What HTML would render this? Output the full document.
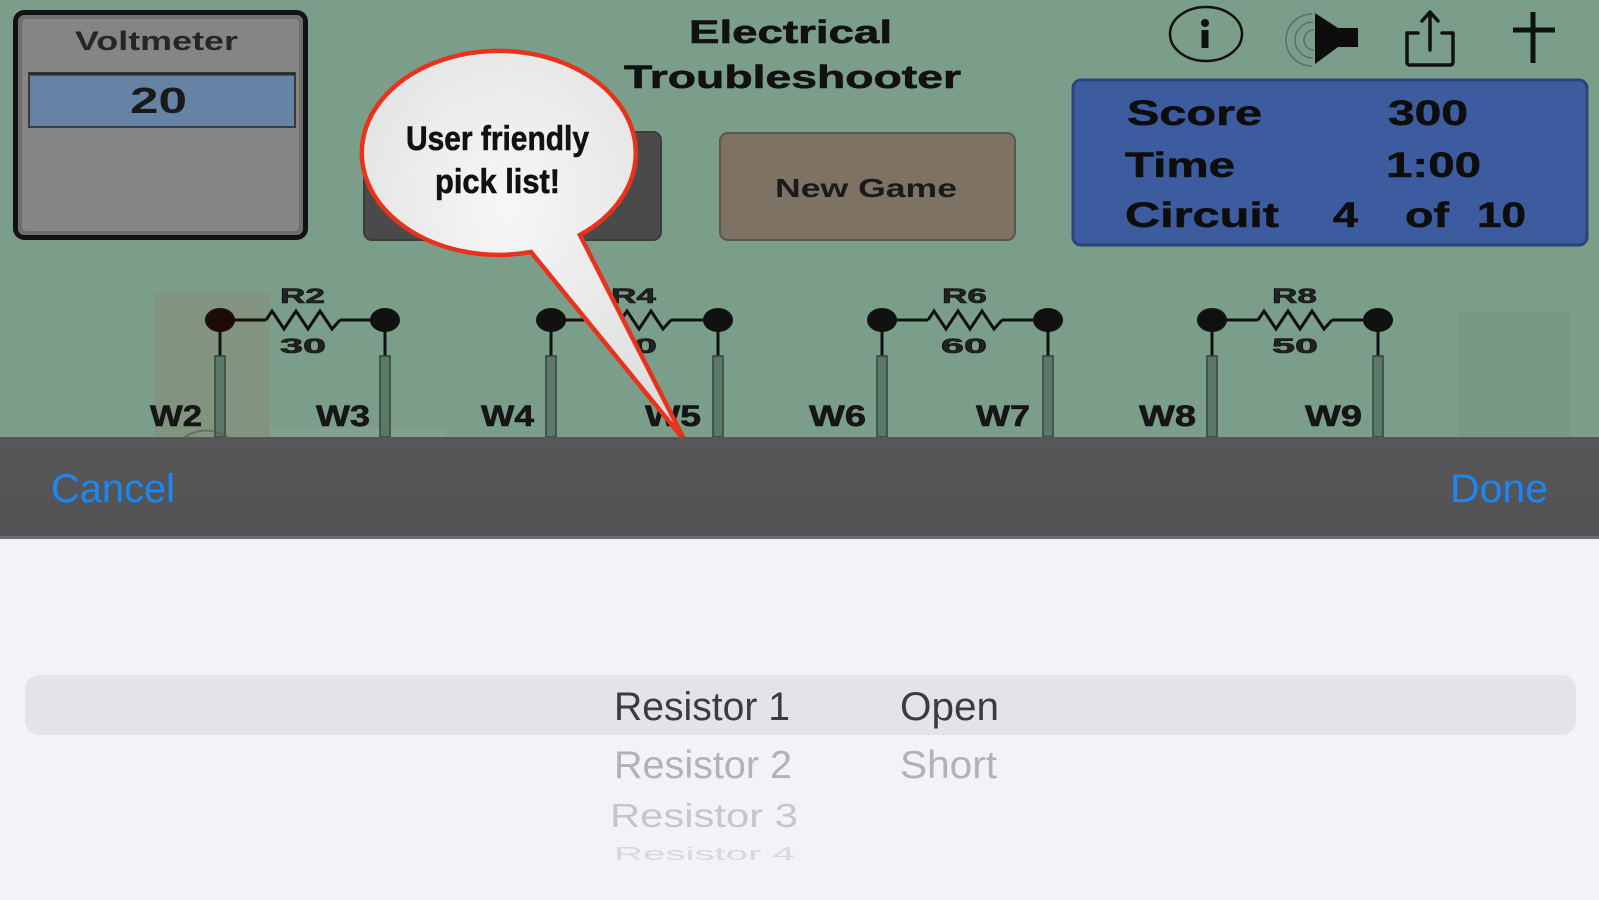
<!DOCTYPE html>
<html>
<head>
<meta charset="utf-8">
<style>
html,body{margin:0;padding:0;background:#f2f2f7;}
svg{display:block;}
text{font-family:"Liberation Sans",Arial,sans-serif;}
.b{font-weight:bold;}
.th{stroke:#111;stroke-width:0.6;}
</style>
</head>
<body>
<svg width="1599" height="900" viewBox="0 0 1599 900" xmlns="http://www.w3.org/2000/svg">
<defs>
  <radialGradient id="bub" cx="0.45" cy="0.4" r="0.7">
    <stop offset="0" stop-color="#f7f7f7"/>
    <stop offset="1" stop-color="#dcdcdc"/>
  </radialGradient>
  <linearGradient id="tb" x1="0" y1="0" x2="0" y2="1">
    <stop offset="0" stop-color="#57575a"/>
    <stop offset="1" stop-color="#535355"/>
  </linearGradient>
</defs>

<!-- top green area -->
<rect x="0" y="0" width="1599" height="437" fill="#7a9e8a"/>

<!-- subtle highlight regions -->
<rect x="155" y="293" width="115" height="144" fill="#82947f"/>
<rect x="270" y="428" width="176" height="9" fill="#86a08f"/>
<rect x="1458" y="311" width="112" height="126" fill="#789785"/>

<!-- Voltmeter box -->
<rect x="15.5" y="12.5" width="290" height="225" rx="9" fill="#858585" stroke="#121212" stroke-width="5"/>
<rect x="20" y="17" width="281" height="216" rx="6" fill="none" stroke="#6e6e6e" stroke-width="4"/>
<text x="75" y="50" class="b" font-size="27" fill="#262626" textLength="163" lengthAdjust="spacingAndGlyphs">Voltmeter</text>
<rect x="29" y="73" width="266" height="54" fill="#6682a5" stroke="#3a3a3a" stroke-width="2"/>
<line x1="29" y1="74" x2="295" y2="74" stroke="#2c2c2c" stroke-width="3"/>
<text x="130" y="113" class="b" font-size="36" fill="#1a1a1a" textLength="57" lengthAdjust="spacingAndGlyphs">20</text>

<!-- dark button behind bubble -->
<rect x="364" y="132" width="297" height="108" rx="8" fill="#4a4a4a" stroke="#3c3c3c" stroke-width="2"/>

<!-- Title -->
<text x="689" y="43" class="b th" font-size="32" fill="#111" textLength="203" lengthAdjust="spacingAndGlyphs">Electrical</text>
<text x="624" y="88" class="b th" font-size="32" fill="#111" textLength="337" lengthAdjust="spacingAndGlyphs">Troubleshooter</text>

<!-- New Game button -->
<rect x="720" y="133" width="295" height="107" rx="8" fill="#7d7264" stroke="#5e564c" stroke-width="2"/>
<text x="775" y="197" class="b" font-size="26" fill="#1a1a1a" textLength="182" lengthAdjust="spacingAndGlyphs">New Game</text>

<!-- Score box -->
<rect x="1073" y="80" width="514" height="165" rx="8" fill="#3d5ca0" stroke="#2b437a" stroke-width="3"/>
<g font-size="35" fill="#0d0d0d">
  <text x="1127" y="125" class="b th" textLength="135" lengthAdjust="spacingAndGlyphs">Score</text>
  <text x="1388" y="125" class="b th" textLength="80" lengthAdjust="spacingAndGlyphs">300</text>
  <text x="1125" y="177" class="b th" textLength="110" lengthAdjust="spacingAndGlyphs">Time</text>
  <text x="1386" y="177" class="b th" textLength="95" lengthAdjust="spacingAndGlyphs">1:00</text>
  <text x="1125" y="227" class="b th" textLength="154" lengthAdjust="spacingAndGlyphs">Circuit</text>
  <text x="1333" y="227" class="b th" textLength="25" lengthAdjust="spacingAndGlyphs">4</text>
  <text x="1405" y="227" class="b th" textLength="44" lengthAdjust="spacingAndGlyphs">of</text>
  <text x="1477" y="227" class="b th" textLength="49" lengthAdjust="spacingAndGlyphs">10</text>
</g>

<!-- Icons -->
<ellipse cx="1206" cy="34" rx="36" ry="27" fill="none" stroke="#111" stroke-width="2.5"/>
<ellipse cx="1205" cy="23" rx="4" ry="4" fill="#111"/>
<rect x="1201.5" y="30" width="7" height="18" fill="#111"/>

<g fill="none" stroke="#5a5a5a" stroke-width="1.6" opacity="0.7">
  <path d="M1312,14 A26,26 0 0 0 1312,66"/>
  <path d="M1313,22 A18,18 0 0 0 1313,58"/>
  <path d="M1314,30 A10,10 0 0 0 1314,50"/>
</g>
<polygon points="1315,13 1338,28 1358,28 1358,47 1338,47 1315,64" fill="#0d0d0d"/>

<g fill="none" stroke="#111" stroke-width="3.5" stroke-linecap="round" stroke-linejoin="round">
  <path d="M1418,33 L1407,33 L1407,62 Q1407,65 1410,65 L1450,65 Q1453,65 1453,62 L1453,33 L1442,33"/>
  <path d="M1430,50 L1430,13"/>
  <path d="M1422,21 L1430,12 L1438,21"/>
</g>
<line x1="1533" y1="12" x2="1533" y2="63" stroke="#111" stroke-width="5"/>
<line x1="1513" y1="30" x2="1555" y2="30" stroke="#111" stroke-width="5"/>

<!-- Circuit -->
<g id="circuit">
  <!-- R2 -->
  <g>
    <line x1="220" y1="320" x2="266" y2="320" stroke="#111" stroke-width="3"/>
    <line x1="340" y1="320" x2="385" y2="320" stroke="#111" stroke-width="3"/>
    <polyline points="266,320 272,311 284,329 296,311 308,329 320,311 332,329 340,320" fill="none" stroke="#111" stroke-width="3"/>
    <line x1="220" y1="320" x2="220" y2="358" stroke="#111" stroke-width="3"/>
    <line x1="385" y1="320" x2="385" y2="358" stroke="#111" stroke-width="3"/>
    <rect x="215" y="356" width="10" height="81" fill="#5c786a" stroke="#33473c" stroke-width="1.5"/>
    <rect x="380" y="356" width="10" height="81" fill="#5c786a" stroke="#33473c" stroke-width="1.5"/>
    <ellipse cx="220" cy="320" rx="15" ry="12" fill="#1c0c0c"/>
    <ellipse cx="385" cy="320" rx="15" ry="12" fill="#111"/>
    <text x="280" y="303" class="b th" font-size="21" fill="#222" textLength="45" lengthAdjust="spacingAndGlyphs">R2</text>
    <text x="280" y="353" class="b th" font-size="21" fill="#222" textLength="46" lengthAdjust="spacingAndGlyphs">30</text>
  </g>
  <!-- R4 -->
  <g>
    <line x1="551" y1="320" x2="597" y2="320" stroke="#111" stroke-width="3"/>
    <line x1="671" y1="320" x2="718" y2="320" stroke="#111" stroke-width="3"/>
    <polyline points="597,320 603,311 615,329 627,311 639,329 651,311 663,329 671,320" fill="none" stroke="#111" stroke-width="3"/>
    <line x1="551" y1="320" x2="551" y2="358" stroke="#111" stroke-width="3"/>
    <line x1="718" y1="320" x2="718" y2="358" stroke="#111" stroke-width="3"/>
    <rect x="546" y="356" width="10" height="81" fill="#5c786a" stroke="#33473c" stroke-width="1.5"/>
    <rect x="713" y="356" width="10" height="81" fill="#5c786a" stroke="#33473c" stroke-width="1.5"/>
    <ellipse cx="551" cy="320" rx="15" ry="12" fill="#111"/>
    <ellipse cx="718" cy="320" rx="15" ry="12" fill="#111"/>
    <text x="611" y="303" class="b th" font-size="21" fill="#222" textLength="45" lengthAdjust="spacingAndGlyphs">R4</text>
    <text x="611" y="353" class="b th" font-size="21" fill="#222" textLength="46" lengthAdjust="spacingAndGlyphs">40</text>
  </g>
  <!-- R6 -->
  <g>
    <line x1="882" y1="320" x2="928" y2="320" stroke="#111" stroke-width="3"/>
    <line x1="1002" y1="320" x2="1048" y2="320" stroke="#111" stroke-width="3"/>
    <polyline points="928,320 934,311 946,329 958,311 970,329 982,311 994,329 1002,320" fill="none" stroke="#111" stroke-width="3"/>
    <line x1="882" y1="320" x2="882" y2="358" stroke="#111" stroke-width="3"/>
    <line x1="1048" y1="320" x2="1048" y2="358" stroke="#111" stroke-width="3"/>
    <rect x="877" y="356" width="10" height="81" fill="#5c786a" stroke="#33473c" stroke-width="1.5"/>
    <rect x="1043" y="356" width="10" height="81" fill="#5c786a" stroke="#33473c" stroke-width="1.5"/>
    <ellipse cx="882" cy="320" rx="15" ry="12" fill="#111"/>
    <ellipse cx="1048" cy="320" rx="15" ry="12" fill="#111"/>
    <text x="942" y="303" class="b th" font-size="21" fill="#222" textLength="45" lengthAdjust="spacingAndGlyphs">R6</text>
    <text x="941" y="353" class="b th" font-size="21" fill="#222" textLength="46" lengthAdjust="spacingAndGlyphs">60</text>
  </g>
  <!-- R8 -->
  <g>
    <line x1="1212" y1="320" x2="1258" y2="320" stroke="#111" stroke-width="3"/>
    <line x1="1332" y1="320" x2="1378" y2="320" stroke="#111" stroke-width="3"/>
    <polyline points="1258,320 1264,311 1276,329 1288,311 1300,329 1312,311 1324,329 1332,320" fill="none" stroke="#111" stroke-width="3"/>
    <line x1="1212" y1="320" x2="1212" y2="358" stroke="#111" stroke-width="3"/>
    <line x1="1378" y1="320" x2="1378" y2="358" stroke="#111" stroke-width="3"/>
    <rect x="1207" y="356" width="10" height="81" fill="#5c786a" stroke="#33473c" stroke-width="1.5"/>
    <rect x="1373" y="356" width="10" height="81" fill="#5c786a" stroke="#33473c" stroke-width="1.5"/>
    <ellipse cx="1212" cy="320" rx="15" ry="12" fill="#111"/>
    <ellipse cx="1378" cy="320" rx="15" ry="12" fill="#111"/>
    <text x="1272" y="303" class="b th" font-size="21" fill="#222" textLength="45" lengthAdjust="spacingAndGlyphs">R8</text>
    <text x="1272" y="353" class="b th" font-size="21" fill="#222" textLength="46" lengthAdjust="spacingAndGlyphs">50</text>
  </g>
  <!-- W labels -->
  <g font-size="30" fill="#161616">
    <text x="150" y="426" class="b th" textLength="52" lengthAdjust="spacingAndGlyphs">W2</text>
    <text x="316" y="426" class="b th" textLength="54" lengthAdjust="spacingAndGlyphs">W3</text>
    <text x="481" y="426" class="b th" textLength="53" lengthAdjust="spacingAndGlyphs">W4</text>
    <text x="645" y="426" class="b th" textLength="56" lengthAdjust="spacingAndGlyphs">W5</text>
    <text x="809" y="426" class="b th" textLength="57" lengthAdjust="spacingAndGlyphs">W6</text>
    <text x="976" y="426" class="b th" textLength="54" lengthAdjust="spacingAndGlyphs">W7</text>
    <text x="1139" y="426" class="b th" textLength="57" lengthAdjust="spacingAndGlyphs">W8</text>
    <text x="1305" y="426" class="b th" textLength="57" lengthAdjust="spacingAndGlyphs">W9</text>
  </g>
  <path d="M185,437 Q205,424 228,437" fill="none" stroke="#6a4a44" stroke-width="2" opacity="0.6"/>
</g>

<!-- Speech bubble -->
<path d="M580,235 A137,102 0 1 0 531,252 L685,441 Z" fill="url(#bub)" stroke="#e8321c" stroke-width="4.5" stroke-linejoin="miter"/>
<text x="406" y="150" class="b th" font-size="34" fill="#111" textLength="183" lengthAdjust="spacingAndGlyphs">User friendly</text>
<text x="435" y="193" class="b th" font-size="34" fill="#111" textLength="125" lengthAdjust="spacingAndGlyphs">pick list!</text>

<!-- Toolbar -->
<rect x="0" y="437" width="1599" height="101" fill="url(#tb)"/>
<rect x="0" y="536" width="1599" height="3" fill="#6c6c6e"/>
<text x="51" y="502" font-size="40" fill="#1a87f5" textLength="124" lengthAdjust="spacingAndGlyphs">Cancel</text>
<text x="1450" y="502" font-size="40" fill="#1a87f5" textLength="98" lengthAdjust="spacingAndGlyphs">Done</text>

<!-- Picker area -->
<rect x="0" y="539" width="1599" height="361" fill="#f2f2f7"/>
<rect x="25" y="675" width="1551" height="60" rx="14" fill="#e3e3e8"/>
<text x="614" y="720" font-size="40" fill="#3c3c3f" textLength="176" lengthAdjust="spacingAndGlyphs">Resistor 1</text>
<text x="900" y="720" font-size="40" fill="#3c3c3f" textLength="99" lengthAdjust="spacingAndGlyphs">Open</text>
<text x="614" y="778" font-size="39" fill="#b2b2b6" textLength="178" lengthAdjust="spacingAndGlyphs">Resistor 2</text>
<text x="900" y="778" font-size="39" fill="#b2b2b6" textLength="97" lengthAdjust="spacingAndGlyphs">Short</text>
<text x="610" y="827" font-size="33" fill="#c6c6ca" textLength="188" lengthAdjust="spacingAndGlyphs">Resistor  3</text>
<g transform="translate(614,860) scale(1,0.55)">
  <text x="0" y="0" font-size="33" fill="#d8d8dc" textLength="181" lengthAdjust="spacingAndGlyphs">Resistor  4</text>
</g>
</svg>
</body>
</html>
